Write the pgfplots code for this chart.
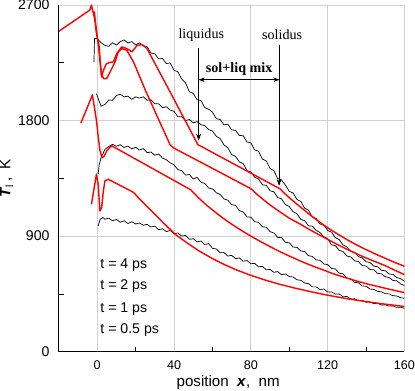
\documentclass[border=0pt]{standalone}
\usepackage{fontspec}
\setmainfont{Liberation Sans}
\newfontfamily\timesrm{Liberation Serif}
\usepackage{pgfplots}
\pgfplotsset{compat=1.18}
\usetikzlibrary{arrows.meta}

% MD (black) and continuum (red) temperature profiles
\pgfplotstableread{
x y
-1.7 2256
-1.4 2440
0 2436
2 2407
4 2386
6 2378
8 2406
10 2388
12 2415
14 2428
16 2404
18 2415
20 2390
22 2405
24 2383
26 2375
28 2326
30 2320
32 2280
34 2283
36 2244
38 2249
40 2191
42 2180
44 2123
46 2094
48 2024
50 2012
52 1962
54 1957
56 1901
58 1889
60 1866
62 1815
64 1808
66 1767
68 1772
70 1727
72 1724
74 1684
76 1682
78 1633
80 1626
82 1572
84 1561
86 1500
88 1486
90 1427
92 1409
94 1348
96 1336
98 1297
100 1249
102 1236
104 1185
106 1170
108 1118
110 1102
112 1049
114 1038
116 995
118 986
120 944
122 931
124 888
126 873
128 831
130 816
132 781
134 775
136 740
138 731
140 700
142 695
144 666
146 662
148 634
150 630
152 605
154 602
156 577
158 569
160 548
}\mdfour

\pgfplotstableread{
x y
-0.4 2009
2 1912
4 1925
6 1960
8 1958
10 1995
12 2005
14 1985
16 1990
18 1965
20 1985
22 1975
24 1985
26 1958
28 1962
30 1932
32 1930
34 1900
36 1908
38 1882
40 1872
42 1830
44 1830
46 1800
48 1808
50 1782
52 1792
54 1768
56 1760
58 1730
60 1718
62 1678
64 1660
66 1610
68 1588
70 1535
72 1522
74 1478
76 1466
78 1410
80 1400
82 1358
84 1345
86 1300
88 1296
90 1253
92 1245
94 1200
96 1190
98 1145
100 1130
102 1090
104 1075
106 1030
108 1020
110 980
112 978
114 945
116 928
118 895
120 880
122 832
124 826
126 789
128 780
130 745
132 738
134 708
136 702
138 670
140 668
142 640
144 638
146 610
148 606
150 584
152 577
154 555
156 552
158 528
160 515
}\mdtwo

\pgfplotstableread{
x y
0.5 1383
1 1455
2 1510
4 1575
6 1598
8 1615
10 1600
12 1612
14 1590
16 1602
18 1580
20 1592
22 1570
24 1582
26 1550
28 1555
30 1530
32 1540
34 1508
36 1495
38 1470
40 1455
42 1418
44 1410
46 1375
48 1380
50 1345
52 1358
54 1320
56 1310
58 1275
60 1268
62 1238
64 1225
66 1190
68 1180
70 1145
72 1140
74 1098
76 1088
78 1050
80 1048
82 1012
84 1008
86 972
88 970
90 935
92 925
94 890
96 888
98 852
100 848
102 815
104 812
106 785
108 780
110 748
112 742
114 715
116 712
118 683
120 678
122 648
124 645
126 612
128 606
130 572
132 568
134 540
136 537
138 512
140 510
142 488
144 485
146 470
148 466
150 452
152 450
154 436
156 434
158 420
160 416
}\mdone

\pgfplotstableread{
x y
0.5 980
1.5 1030
3 1045
4 1032
6 1040
8 1020
10 1030
12 1008
14 1020
16 998
18 1012
20 995
22 1002
24 985
26 992
28 970
30 978
32 950
34 958
36 935
38 945
40 918
42 925
44 900
46 905
48 875
50 880
52 855
54 862
56 835
58 842
60 805
62 800
64 770
66 772
68 745
70 750
72 725
74 730
76 705
78 710
80 685
82 688
84 660
86 665
88 638
90 640
92 618
94 624
96 600
98 605
100 585
102 582
104 560
106 556
108 535
110 530
112 505
114 505
116 485
118 488
120 465
122 466
124 448
126 450
128 428
130 430
132 410
134 412
136 398
138 400
140 385
142 388
144 375
146 377
148 363
150 365
152 355
154 356
156 345
158 346
160 338
}\mdhalf

\begin{document}
\begin{tikzpicture}
\begin{axis}[
  scale only axis, width=343bp, height=344bp,
  xmin=-20, xmax=160, ymin=0, ymax=2700,
  axis x line*=bottom, axis y line*=left,
  axis line style={-, black, line width=0.8bp},
  xtick={0,40,80,120,160}, xticklabels={0,40,80,120,160},
  ytick={0,900,1800,2700}, yticklabels={0,900,1800,2700},
  minor xtick={20,60,100,140}, minor ytick={450,1350,2250},
  major tick length=0pt, minor tick length=5bp, tick align=inside,
  minor tick style={black, line width=0.8bp},
  grid=major, major grid style={black!18, line width=0.8bp},
  xticklabel style={font=\fontsize{12.5bp}{14bp}\selectfont, inner sep=0pt, yshift=-9bp},
  yticklabel style={font=\fontsize{14bp}{16bp}\selectfont, inner sep=0pt, xshift=-9bp},
  xlabel={position \ \textbf{\textit{x}},\ \ nm},
  xlabel style={font=\fontsize{15bp}{17bp}\selectfont, at={(axis description cs:0.49,0)},
    anchor=base, yshift=-35bp, inner sep=0pt},
  ylabel={\textbf{\textit{T}}\textsubscript{l}\,,\ \ K},
  ylabel style={font=\fontsize{15bp}{17bp}\selectfont, at={(axis description cs:-0.14,0.5)},
    anchor=base, inner sep=0pt},
  every axis plot/.append style={line join=round},
]
\addplot[black, line width=0.7bp] table {\mdfour};
\addplot[black, line width=0.7bp] table {\mdtwo};
\addplot[black, line width=0.7bp] table {\mdone};
\addplot[black, line width=0.7bp] table {\mdhalf};

% t = 4 ps
\addplot[red, line width=1.4bp] coordinates {
(-20,2495) (-3.8,2661) (-3,2700) (-1.2,2583) (-0.4,2478) (1.0,2380) (1.6,2250)
(2.3,2139) (3,2180) (4,2218) (4.9,2244) (6.5,2252) (8.4,2257) (10.2,2322)
(12.8,2374) (15.4,2361) (18.1,2335) (20.7,2384) (23.3,2392) (25.9,2361)
(38.3,2013) (52.5,1610) (54,1600) (95,1270) (97,1240) (100,1200) (103,1161)
(106,1125) (110,1075) (115,1018) (120,965) (125,918) (130,873) (135,832)
(140,795) (145,760) (150,727) (155,695) (160,665)};
% t = 2 ps
\addplot[red, line width=1.4bp] coordinates {
(-1.5,2650) (-0.8,2550) (0.5,2400) (1.4,2270) (2.3,2152) (3.5,2126) (4.9,2126)
(6.7,2178) (9.3,2257) (11,2335) (12.8,2361) (15.4,2348) (18.9,2257) (25.1,2035)
(38,1610) (40,1585) (80,1270) (83,1228) (86,1190) (90,1143) (95,1090) (100,1040)
(106,991) (110,956) (115,915) (120,875) (123,850) (130,798) (135,763) (140,730)
(145,700) (150,670) (155,634) (160,600)};
% t = 1 ps
\addplot[red, line width=1.4bp] coordinates {
(-8.5,1780) (-2.5,2000) (-1.2,1878) (-0.4,1800) (0.5,1680) (1.4,1570) (2.5,1510)
(3.5,1520) (5,1565) (7.5,1604) (48.8,1260) (51,1225) (53,1195) (57,1140)
(62,1080) (66,1035) (70,993) (75,945) (80,900) (85,858) (90,818) (95,780)
(100,745) (106,705) (112,668) (118,635) (122,612) (128,582) (134,555) (140,530)
(146,508) (152,487) (160,460)};
% t = 0.5 ps
\addplot[red, line width=1.4bp] coordinates {
(-3,1148) (-0.4,1383) (0.5,1304) (1.4,1096) (2.3,1122) (3.2,1250) (4,1330)
(5.8,1343) (19,1240) (22,1190) (25,1145) (30,1070) (35,995) (41,910) (47,845)
(53,785) (60,725) (66,680) (72,640) (79.5,597) (87,560) (95,525) (103,495)
(111,468) (120,440) (130,413) (140,390) (150,370) (160,352)};

\node[font=\timesrm\fontsize{14bp}{16bp}\selectfont] at (axis cs:54.2,2465) {liquidus};
\node[font=\timesrm\fontsize{14bp}{16bp}\selectfont] at (axis cs:96.3,2465) {solidus};
\node[font=\timesrm\bfseries\fontsize{14bp}{16bp}\selectfont] at (axis cs:73.9,2199) {sol+liq mix};
\draw[-{Stealth[length=7bp,width=5bp]}, line width=0.8bp] (axis cs:52.8,2363) -- (axis cs:52.8,1643);
\draw[-{Stealth[length=7bp,width=5bp]}, line width=0.8bp] (axis cs:94.7,2387) -- (axis cs:94.7,1291);
\draw[{Stealth[length=6bp,width=4.5bp]}-{Stealth[length=6bp,width=4.5bp]}, line width=0.8bp]
  (axis cs:52.8,2118) -- (axis cs:94.9,2118);

\node[anchor=west, inner sep=0pt, font=\fontsize{14bp}{16bp}\selectfont] at (axis cs:1.6,673) {t = 4 ps};
\node[anchor=west, inner sep=0pt, font=\fontsize{14bp}{16bp}\selectfont] at (axis cs:1.6,509) {t = 2 ps};
\node[anchor=west, inner sep=0pt, font=\fontsize{14bp}{16bp}\selectfont] at (axis cs:1.6,329) {t = 1 ps};
\node[anchor=west, inner sep=0pt, font=\fontsize{14bp}{16bp}\selectfont] at (axis cs:1.6,172) {t = 0.5 ps};
\end{axis}
\end{tikzpicture}
\end{document}
